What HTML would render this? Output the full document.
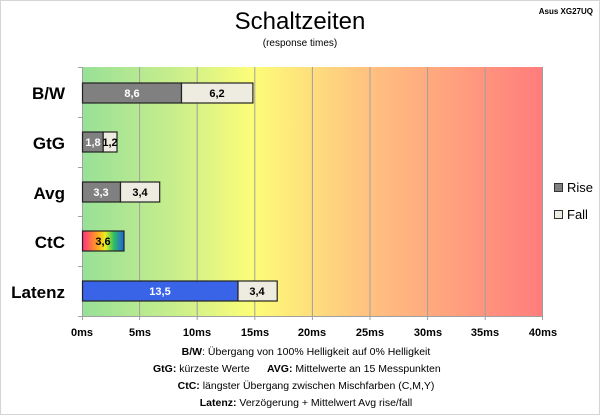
<!DOCTYPE html>
<html><head><meta charset="utf-8"><style>
body{margin:0;background:#fff;font-family:"Liberation Sans",sans-serif}
#c{position:relative;width:598px;height:413px;border:1px solid #d4d4d4;overflow:hidden}
</style></head><body><div id="c">
<svg width="598" height="413" style="position:absolute;left:0;top:0" font-family="Liberation Sans, sans-serif">
<defs>
<linearGradient id="bg" x1="0" x2="1" y1="0" y2="0">
<stop offset="0" stop-color="#98e098"/>
<stop offset="0.2" stop-color="#c8ee8c"/>
<stop offset="0.37" stop-color="#fdfd78"/>
<stop offset="0.6" stop-color="#ffc680"/>
<stop offset="1" stop-color="#ff7c7c"/>
</linearGradient>
<linearGradient id="ctc" x1="0" x2="1">
<stop offset="0" stop-color="#ff3080"/><stop offset="0.35" stop-color="#ffa020"/>
<stop offset="0.55" stop-color="#e8f020"/><stop offset="0.75" stop-color="#30c060"/>
<stop offset="1" stop-color="#2060e0"/></linearGradient>
</defs>
<text x="299" y="28" font-size="24" text-anchor="middle" fill="#000">Schaltzeiten</text>
<text x="299" y="45" font-size="10" text-anchor="middle" fill="#000">(response times)</text>
<text x="592" y="13" font-size="8" text-anchor="end" font-weight="bold" fill="#000">Asus XG27UQ</text>
<rect x="81" y="66" width="461" height="249" fill="url(#bg)"/>
<g stroke="#a0a0a0" stroke-width="1">
<line x1="138.6" y1="66" x2="138.6" y2="315"/><line x1="196.2" y1="66" x2="196.2" y2="315"/>
<line x1="253.8" y1="66" x2="253.8" y2="315"/><line x1="311.4" y1="66" x2="311.4" y2="315"/>
<line x1="369" y1="66" x2="369" y2="315"/><line x1="426.6" y1="66" x2="426.6" y2="315"/>
<line x1="484.2" y1="66" x2="484.2" y2="315"/><line x1="541.5" y1="66" x2="541.5" y2="315"/>
<line x1="81.5" y1="66" x2="81.5" y2="315"/><line x1="81" y1="315.5" x2="542" y2="315.5"/>
<line x1="77" y1="66.5" x2="81" y2="66.5"/><line x1="77" y1="116.5" x2="81" y2="116.5"/>
<line x1="77" y1="166.5" x2="81" y2="166.5"/><line x1="77" y1="215.5" x2="81" y2="215.5"/>
<line x1="77" y1="265.5" x2="81" y2="265.5"/><line x1="77" y1="315.5" x2="81" y2="315.5"/>
<line x1="81.5" y1="315" x2="81.5" y2="319"/><line x1="138.6" y1="315" x2="138.6" y2="319"/><line x1="196.2" y1="315" x2="196.2" y2="319"/><line x1="253.8" y1="315" x2="253.8" y2="319"/><line x1="311.4" y1="315" x2="311.4" y2="319"/><line x1="369" y1="315" x2="369" y2="319"/><line x1="426.6" y1="315" x2="426.6" y2="319"/><line x1="484.2" y1="315" x2="484.2" y2="319"/><line x1="541.5" y1="315" x2="541.5" y2="319"/>
</g>
<g stroke="#222" stroke-width="1.2">
<rect x="81.5" y="82" width="99" height="20" fill="#808080"/>
<rect x="180.5" y="82" width="71.4" height="20" fill="#eeebe0"/>
<rect x="81.5" y="131" width="20.7" height="20" fill="#808080"/>
<rect x="102.2" y="131" width="13.8" height="20" fill="#eeebe0"/>
<rect x="81.5" y="181" width="38" height="20" fill="#808080"/>
<rect x="119.5" y="181" width="39.2" height="20" fill="#eeebe0"/>
<rect x="81.5" y="230" width="41.5" height="20" fill="url(#ctc)"/>
<rect x="81.5" y="280" width="155.5" height="20" fill="#3a64e8"/>
<rect x="237" y="280" width="39.2" height="20" fill="#eeebe0"/>
</g>
<g font-size="11" font-weight="bold" text-anchor="middle">
<text x="131" y="96" fill="#fff">8,6</text><text x="216" y="96">6,2</text>
<text x="92" y="145" fill="#fff">1,8</text><text x="109" y="145">1,2</text>
<text x="100" y="195" fill="#fff">3,3</text><text x="139" y="195">3,4</text>
<text x="102" y="244">3,6</text>
<text x="159" y="294" fill="#fff">13,5</text><text x="256" y="294">3,4</text>
</g>
<g font-size="17" font-weight="bold" text-anchor="end" fill="#000">
<text x="64" y="98">B/W</text><text x="64" y="148">GtG</text><text x="64" y="198">Avg</text>
<text x="64" y="247">CtC</text><text x="64" y="297">Latenz</text>
</g>
<g font-size="11" font-weight="bold" text-anchor="middle">
<text x="81" y="335">0ms</text><text x="139" y="335">5ms</text><text x="196" y="335">10ms</text>
<text x="254" y="335">15ms</text><text x="311" y="335">20ms</text><text x="369" y="335">25ms</text>
<text x="427" y="335">30ms</text><text x="484" y="335">35ms</text><text x="542" y="335">40ms</text>
</g>
<rect x="553.5" y="182.5" width="8" height="8" fill="#808080" stroke="#333"/>
<rect x="553.5" y="209.5" width="8" height="8" fill="#eeebe0" stroke="#333"/>
<text x="566" y="191" font-size="13">Rise</text>
<text x="566" y="218" font-size="13">Fall</text>
<g font-size="10.5">
<text x="305" y="354" text-anchor="middle"><tspan font-weight="bold">B/W</tspan>:  Übergang von 100% Helligkeit auf 0% Helligkeit</text>
<text x="152" y="371"><tspan font-weight="bold">GtG:</tspan> kürzeste Werte</text>
<text x="266" y="371"><tspan font-weight="bold">AVG:</tspan> Mittelwerte an 15 Messpunkten</text>
<text x="305" y="388" text-anchor="middle"><tspan font-weight="bold">CtC:</tspan> längster Übergang zwischen Mischfarben (C,M,Y)</text>
<text x="305" y="405" text-anchor="middle"><tspan font-weight="bold">Latenz:</tspan> Verzögerung + Mittelwert Avg rise/fall</text>
</g>
</svg></div></body></html>
